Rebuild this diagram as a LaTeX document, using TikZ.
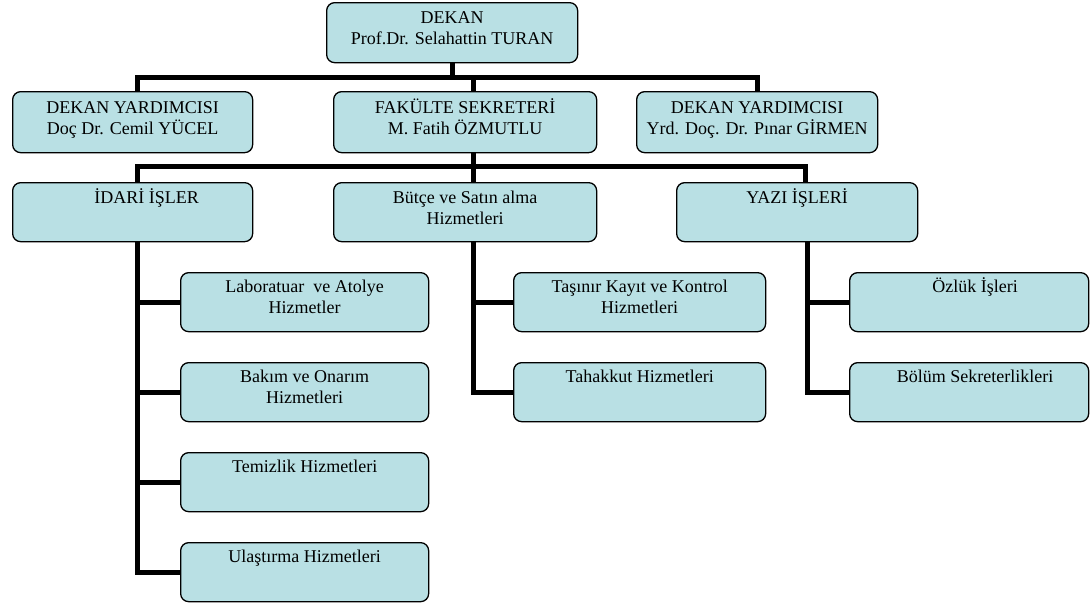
\documentclass[tikz,border=0pt]{standalone}
\usepackage{fontspec}
\setmainfont{Liberation Serif}
\usetikzlibrary{backgrounds,calc}
\definecolor{boxfill}{RGB}{185,224,228}
\newcommand{\fl}{\rule{0pt}{17pt}}
\begin{document}
\begin{tikzpicture}[x=1pt,y=-1pt,
  box/.style={draw=black, line width=1.3pt, rounded corners=8pt, fill=boxfill, anchor=north west, inner sep=0pt},
  lbl/.style={align=center, font=\fontsize{18}{21}\selectfont, inner sep=0pt, anchor=north},
  conn/.style={line width=5pt, line join=miter, line cap=butt}]
\useasboundingbox (0,0) rectangle (1090,606);
% boxes
\node[box, minimum width=251pt, minimum height=60pt] (top) at (326,2) {};
\node[box, minimum width=240pt, minimum height=61pt] (dy1) at (12,91) {};
\node[box, minimum width=263pt, minimum height=61pt] (fs) at (333,91) {};
\node[box, minimum width=241pt, minimum height=61pt] (dy2) at (636,91) {};
\node[box, minimum width=240pt, minimum height=59pt] (idari) at (12,182) {};
\node[box, minimum width=263pt, minimum height=59pt] (butce) at (333,182) {};
\node[box, minimum width=241pt, minimum height=59pt] (yazi) at (676,182) {};
\node[box, minimum width=248pt, minimum height=59pt] (lab) at (180,272) {};
\node[box, minimum width=248pt, minimum height=59pt] (bak) at (180,362) {};
\node[box, minimum width=248pt, minimum height=59pt] (tem) at (180,452) {};
\node[box, minimum width=248pt, minimum height=59pt] (ula) at (180,542) {};
\node[box, minimum width=252pt, minimum height=59pt] (tas) at (513,272) {};
\node[box, minimum width=252pt, minimum height=59pt] (tah) at (513,362) {};
\node[box, minimum width=239pt, minimum height=59pt] (ozl) at (849,272) {};
\node[box, minimum width=239pt, minimum height=59pt] (bol) at (849,362) {};
% labels
\node[lbl] (ttop) at ($(top.north)+(0,4)$) {\fl DEKAN\\Prof.Dr. Selahattin TURAN};
\node[lbl] (tdy1) at ($(dy1.north)+(0,5)$) {\fl DEKAN YARDIMCISI\\Doç Dr. Cemil YÜCEL};
\node[lbl] (tfs) at ($(fs.north)+(0,5)$) {\fl FAKÜLTE SEKRETERİ\\M. Fatih ÖZMUTLU};
\node[lbl] (tdy2) at ($(dy2.north)+(0,5)$) {\fl DEKAN YARDIMCISI\\Yrd. Doç. Dr. Pınar GİRMEN};
\node[lbl] (tidari) at ($(idari.north)+(14,4)$) {\fl İDARİ İŞLER};
\node[lbl] (tbutce) at ($(butce.north)+(0,4)$) {\fl Bütçe ve Satın alma\\Hizmetleri};
\node[lbl] (tyazi) at ($(yazi.north)+(0,4)$) {\fl YAZI İŞLERİ};
\node[lbl] (tlab) at ($(lab.north)+(0,3)$) {\fl Laboratuar\ \ ve Atolye\\Hizmetler};
\node[lbl] (tbak) at ($(bak.north)+(0,3)$) {\fl Bakım ve Onarım\\Hizmetleri};
\node[lbl] (ttem) at ($(tem.north)+(0,3)$) {\fl Temizlik Hizmetleri};
\node[lbl] (tula) at ($(ula.north)+(0,3)$) {\fl Ulaştırma Hizmetleri};
\node[lbl] (ttas) at ($(tas.north)+(0,3)$) {\fl Taşınır Kayıt ve Kontrol\\Hizmetleri};
\node[lbl] (ttah) at ($(tah.north)+(0,3)$) {\fl Tahakkut Hizmetleri};
\node[lbl] (tozl) at ($(ozl.north)+(6,3)$) {\fl Özlük İşleri};
\node[lbl] (tbol) at ($(bol.north)+(6,3)$) {\fl Bölüm Sekreterlikleri};
% connectors
\begin{scope}[on background layer]
\coordinate (bar1) at (0,77);
\coordinate (bar2) at (0,166);
\coordinate (cL) at (137,0);
\coordinate (cM) at (473,0);
\coordinate (cR1) at (757,0);
\coordinate (cR2) at (805,0);
\coordinate (cR3) at (807,0);
\draw[conn] (top.south) -- (top.south |- bar1);
\draw[conn] (dy1.north -| cL) -- (cL |- bar1) -- (cR1 |- bar1) -- (dy2.north -| cR1);
\draw[conn] (cM |- bar1) -- (fs.north -| cM);
\draw[conn] (fs.south -| cM) -- (butce.north -| cM);
\draw[conn] (idari.north -| cL) -- (cL |- bar2) -- (cR2 |- bar2) -- (yazi.north -| cR2);
\draw[conn] (idari.south -| cL) |- (ula.west);
\draw[conn] (cL |- lab.west) -- (lab.west);
\draw[conn] (cL |- bak.west) -- (bak.west);
\draw[conn] (cL |- tem.west) -- (tem.west);
\draw[conn] (butce.south -| cM) |- (tah.west);
\draw[conn] (cM |- tas.west) -- (tas.west);
\draw[conn] (yazi.south -| cR3) |- (bol.west);
\draw[conn] (cR3 |- ozl.west) -- (ozl.west);
\end{scope}
\end{tikzpicture}
\end{document}
